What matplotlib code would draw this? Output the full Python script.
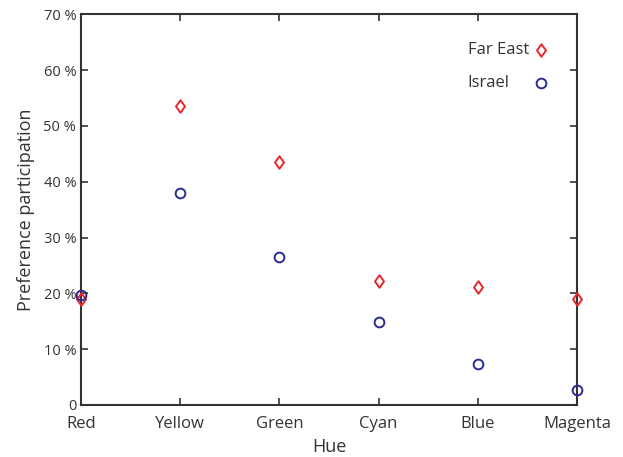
import matplotlib
matplotlib.use("Agg")
import matplotlib.pyplot as plt
from matplotlib.ticker import FuncFormatter
from matplotlib.path import Path

categories = ["Red", "Yellow", "Green", "Cyan", "Blue", "Magenta"]
far_east = [19.0, 53.5, 43.5, 22.2, 21.1, 19.0]
israel = [19.7, 38.0, 26.5, 14.9, 7.3, 2.7]
yticks = [0, 10, 20, 30, 40, 50, 60, 70]
series_names = ["Far East", "Israel"]

plt.rcParams['font.family'] = ['Open Sans', 'DejaVu Sans']
txt = '#333333'
red = '#e8252a'
blue = '#2a2a96'

diamond = Path([(0, 1), (0.72, 0), (0, -1), (-0.72, 0), (0, 1)],
               [Path.MOVETO, Path.LINETO, Path.LINETO, Path.LINETO, Path.CLOSEPOLY])

fig = plt.figure(figsize=(6.23, 4.57), dpi=100)
ax = fig.add_axes([0.130, 0.1138, 0.796, 0.855])
x = list(range(len(categories)))

fe_style = dict(linestyle='none', marker=diamond, markersize=9, markerfacecolor='none',
                markeredgecolor=red, markeredgewidth=1.4, clip_on=False, zorder=3)
is_style = dict(linestyle='none', marker='o', markersize=7, markerfacecolor='none',
                markeredgecolor=blue, markeredgewidth=1.4, clip_on=False, zorder=3)

ax.plot(x, far_east, **fe_style)
ax.plot(x, israel, **is_style)

ax.set_xlim(0, 5)
ax.set_ylim(0, 70)
ax.set_xticks(x)
ax.set_xticklabels(categories, fontsize=12, color=txt)
ax.set_yticks(yticks)
ax.yaxis.set_major_formatter(FuncFormatter(lambda v, p: '0' if v == 0 else f'{int(v)} %'))
ax.tick_params(axis='y', labelsize=10.5, labelcolor=txt)
ax.tick_params(direction='in', top=True, right=True, length=5, width=1.2, color='#333333')
ax.tick_params(axis='x', pad=8)
for s in ax.spines.values():
    s.set_linewidth(1.5)
    s.set_color('#333333')

ax.set_xlabel('Hue', fontsize=13, color=txt, labelpad=4)
ax.set_ylabel('Preference participation', fontsize=13, color=txt, labelpad=6)

# legend (left-aligned text, marker on the right)
leg_y = [0.908, 0.824]
for name, yy, st in zip(series_names, leg_y, [fe_style, is_style]):
    ax.text(0.780, yy, name, transform=ax.transAxes, fontsize=12, color=txt,
            ha='left', va='center')
    ax.plot([0.927], [yy], transform=ax.transAxes, **st)

fig.savefig('out.png', dpi=100)
